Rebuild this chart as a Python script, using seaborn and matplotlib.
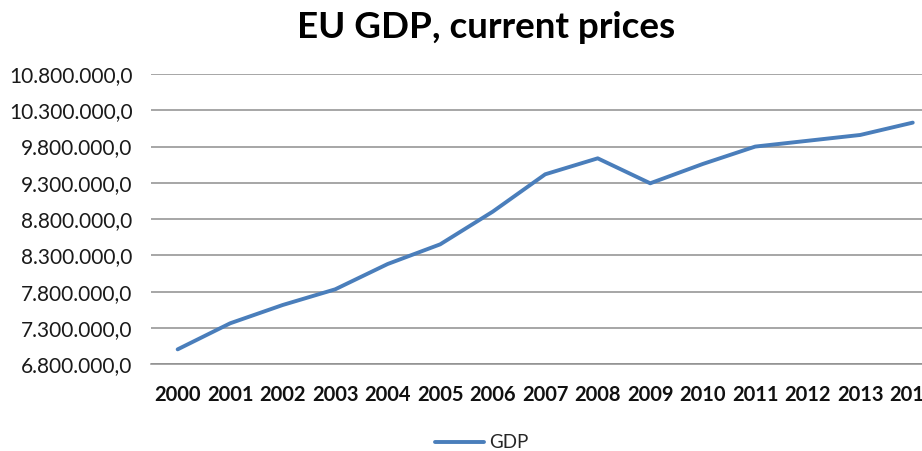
import matplotlib
matplotlib.use("Agg")
import matplotlib.pyplot as plt
from matplotlib.ticker import FuncFormatter, FixedLocator
import seaborn as sns
import pandas as pd

# EU GDP at current prices (million EUR)
years = [2000, 2001, 2002, 2003, 2004, 2005, 2006, 2007,
         2008, 2009, 2010, 2011, 2012, 2013, 2014]
gdp = [7006000, 7365000, 7617000, 7833000, 8182000, 8453000, 8903000, 9418000,
       9638000, 9294000, 9560000, 9800000, 9880000, 9960000, 10130000]
y_ticks = [6800000, 7300000, 7800000, 8300000, 8800000,
           9300000, 9800000, 10300000, 10800000]

df = pd.DataFrame({"pos": range(len(years)), "GDP": gdp})

sns.set_theme(style="white")
plt.rcParams["font.family"] = ["Lato", "DejaVu Sans"]

W, H = 922, 451
fig = plt.figure(figsize=(W / 100, H / 100), dpi=100)
# plot area runs past the right edge of the figure
left, right, bottom, top = 151.4, 939.0, 364.3, 74.0
ax = fig.add_axes([left / W, (H - bottom) / H, (right - left) / W, (bottom - top) / H])

sns.lineplot(data=df, x="pos", y="GDP", ax=ax, color="#4A7EBB", linewidth=2.8,
             label="GDP", legend=False, clip_on=False)

ax.set_xlim(-0.5, len(years) - 0.5)
ax.set_ylim(y_ticks[0], y_ticks[-1])
ax.yaxis.set_major_locator(FixedLocator(y_ticks))


def eu_fmt(v, _):
    s = f"{v:,.1f}"
    return s.replace(",", "X").replace(".", ",").replace("X", ".")


ax.yaxis.set_major_formatter(FuncFormatter(eu_fmt))
ax.set_xticks(range(len(years)))
ax.set_xticklabels([str(y) for y in years])

ax.grid(axis="y", color="#8E8E8E", linewidth=1.1)
ax.set_axisbelow(True)
for s in ["left", "right", "top"]:
    ax.spines[s].set_visible(False)
ax.spines["bottom"].set_color("#8E8E8E")
ax.spines["bottom"].set_linewidth(1.1)

ax.tick_params(axis="y", length=0, pad=13.5, labelsize=15, labelcolor="#1a1a1a")
ax.tick_params(axis="x", length=0, pad=15, labelsize=14.5, labelcolor="#111111")
for t in ax.get_xticklabels():
    t.set_fontweight("bold")
ax.set_xlabel("")
ax.set_ylabel("")

fig.text(0.5 * (296 + 677) / W, 1 - 27 / H, "EU GDP, current prices",
         ha="center", va="center", fontsize=26.5, fontweight="bold", color="black")

handles, labels = ax.get_legend_handles_labels()
fig.legend(handles, labels, loc="center", bbox_to_anchor=(482 / W, 1 - 443 / H),
           frameon=False, fontsize=13.5, handlelength=2.6, handletextpad=0.3)

fig.savefig("out.png", dpi=100, facecolor="white")
